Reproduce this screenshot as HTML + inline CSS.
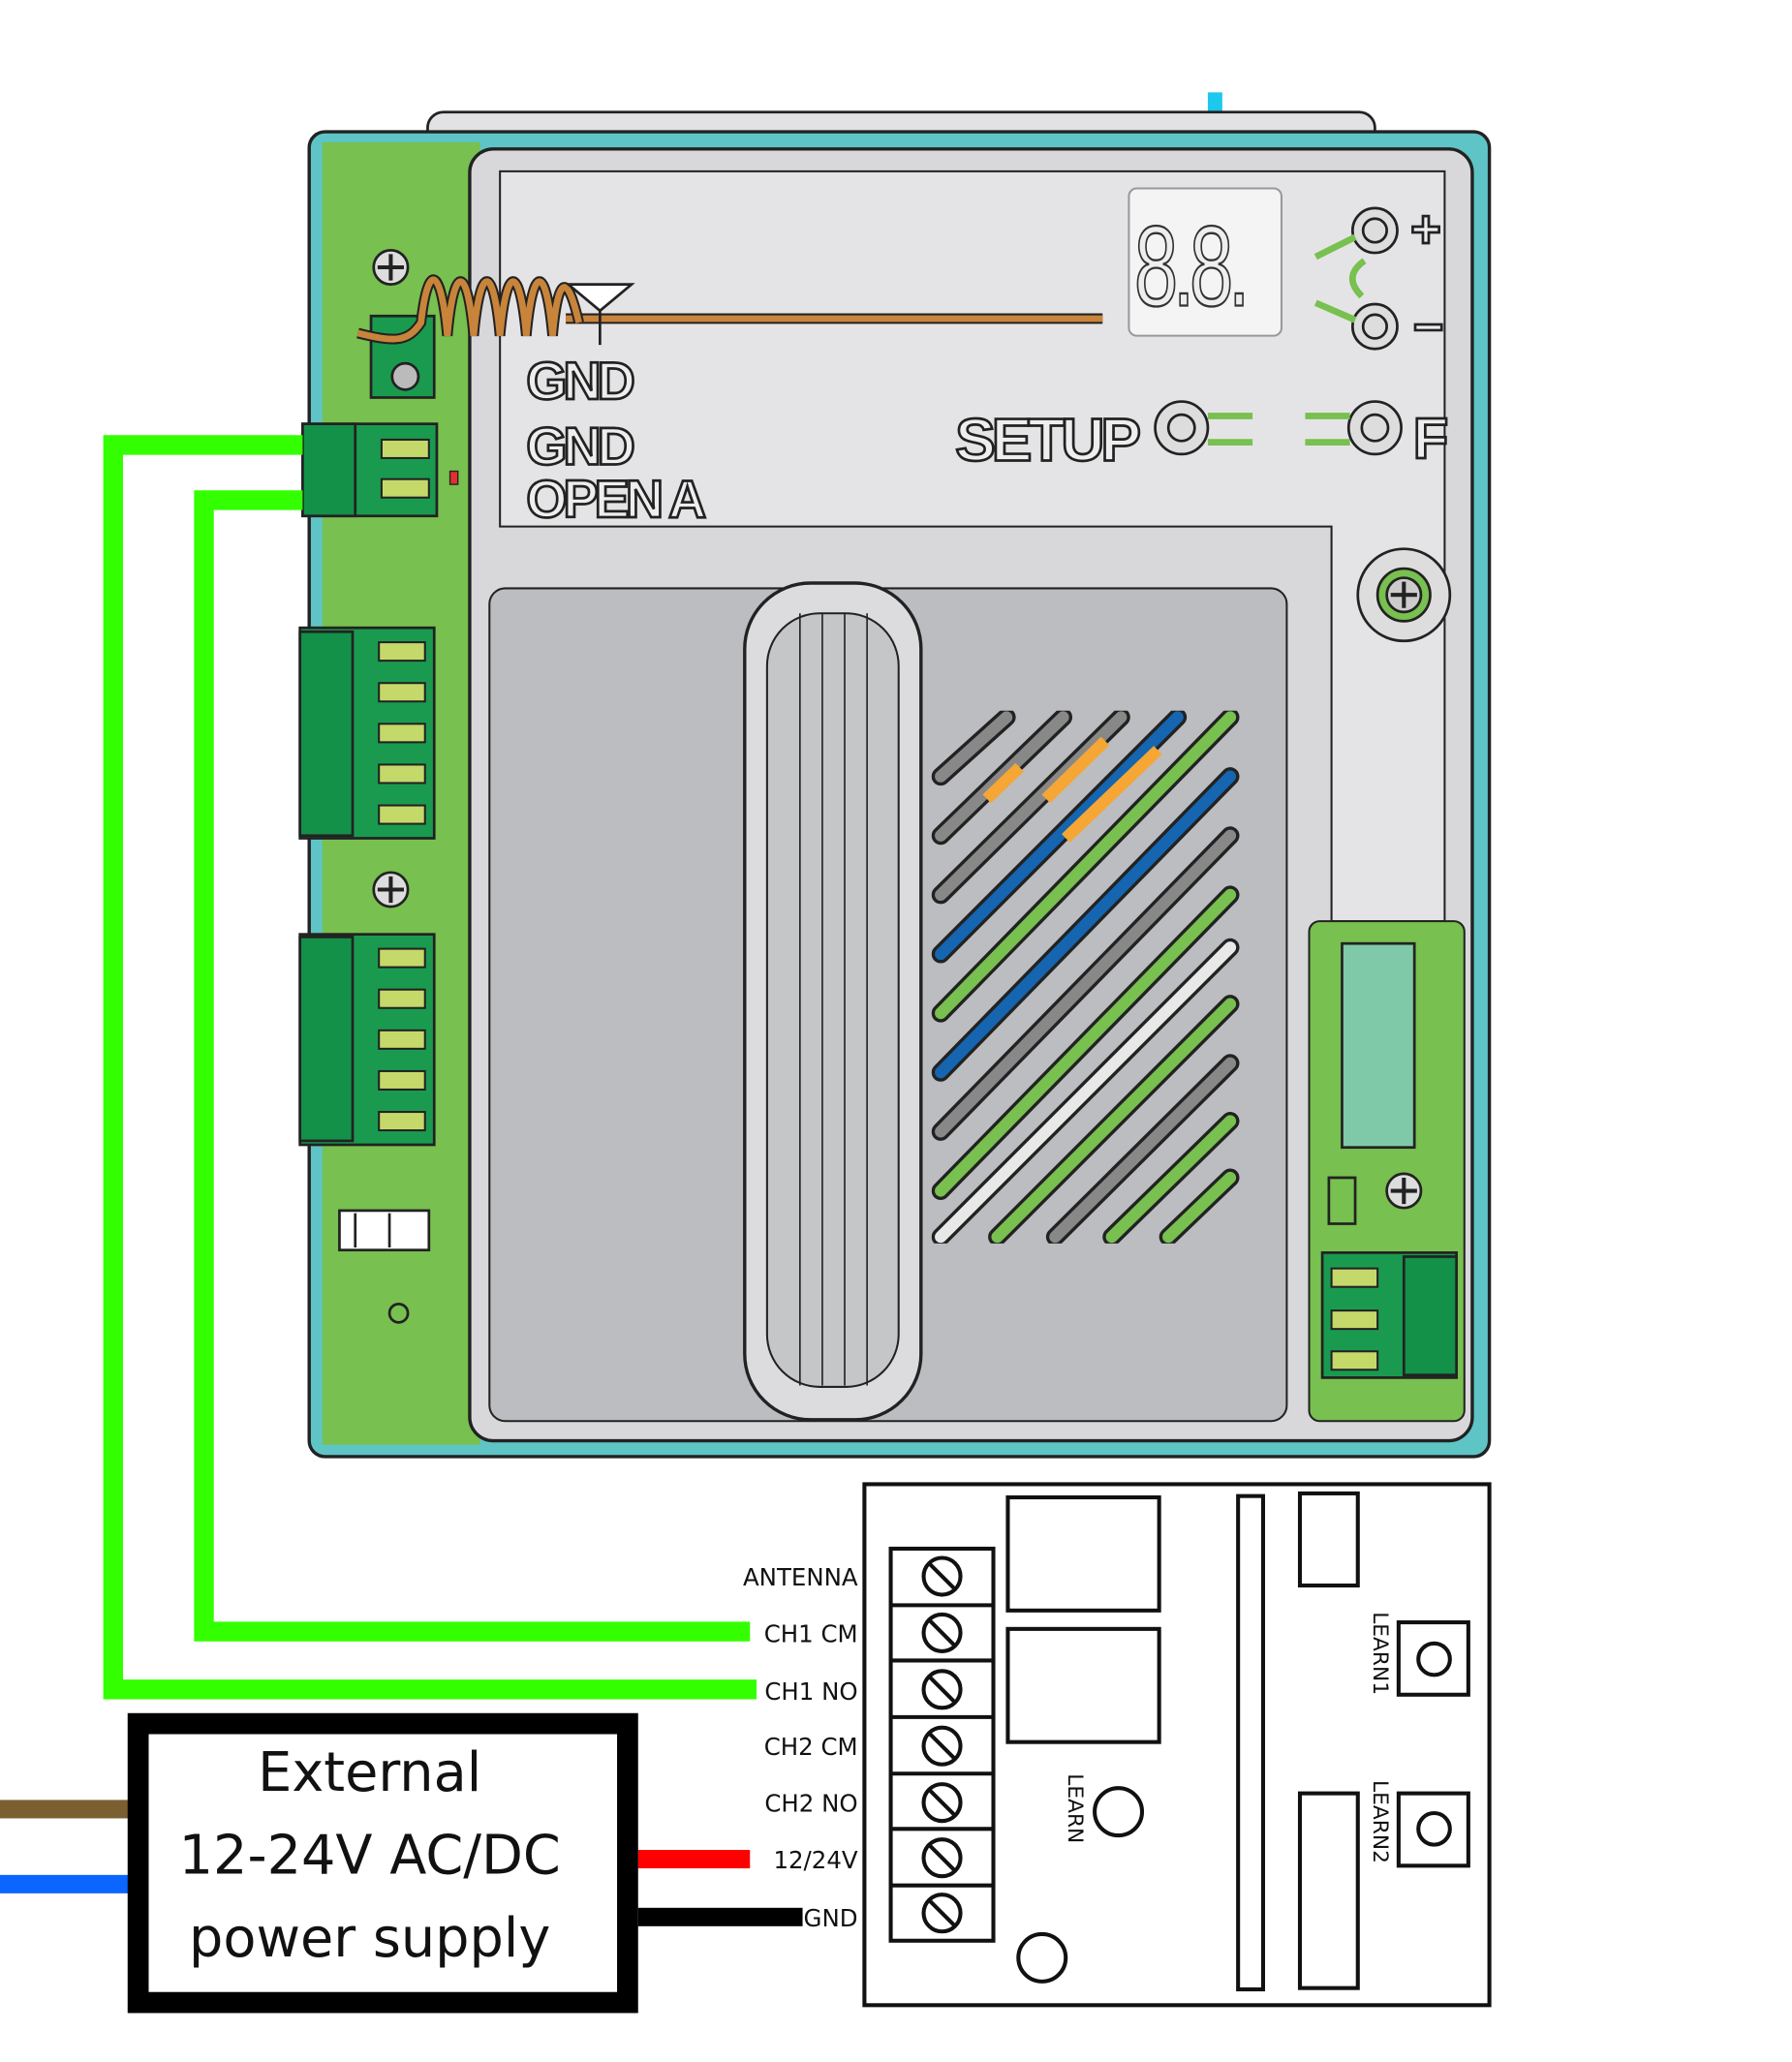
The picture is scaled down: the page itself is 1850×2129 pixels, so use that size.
<!DOCTYPE html>
<html><head><meta charset="utf-8"><style>html,body{margin:0;padding:0;background:#fff}svg{display:block}</style></head>
<body>
<svg width="1850" height="2129" viewBox="0 0 1362 1567" xmlns="http://www.w3.org/2000/svg" font-family="Liberation Sans, sans-serif">
<defs>
<clipPath id="vc"><rect x="708" y="540" width="235" height="405"/></clipPath>
</defs>
<rect width="1362" height="1567" fill="#fff"/>
<rect x="918" y="70" width="11" height="42" fill="#1ec8ec"/>
<rect x="325" y="85" width="720" height="30" rx="12" fill="#e2e2e4" stroke="#222" stroke-width="2"/>
<rect x="235" y="100" width="897" height="1007" rx="12" fill="#5fc4c6" stroke="#222" stroke-width="2.5"/>
<rect x="245" y="108" width="120" height="990" fill="#78c04f"/>
<rect x="357" y="113" width="762" height="982" rx="18" fill="#d8d8da" stroke="#222" stroke-width="2.5"/>
<path d="M380 130 H1098 V700 H1012 V400 H380 Z" fill="#e4e4e6" stroke="#222" stroke-width="1.5"/>
<rect x="995" y="700" width="118" height="380" rx="8" fill="#78c04f" stroke="#222" stroke-width="1.5"/>
<rect x="372" y="447" width="606" height="633" rx="12" fill="#bcbdc0" stroke="#222" stroke-width="1.5"/>
<rect x="566" y="443" width="134" height="636" rx="50" fill="#dcdcde" stroke="#222" stroke-width="2.5"/>
<rect x="583" y="466" width="100" height="588" rx="40" fill="#c5c6c8" stroke="#222" stroke-width="1.5"/>
<line x1="608" y1="466" x2="608" y2="1053" stroke="#222" stroke-width="1.2"/>
<line x1="625" y1="466" x2="625" y2="1053" stroke="#222" stroke-width="1.2"/>
<line x1="642" y1="466" x2="642" y2="1053" stroke="#222" stroke-width="1.2"/>
<line x1="659" y1="466" x2="659" y2="1053" stroke="#222" stroke-width="1.2"/>
<g clip-path="url(#vc)" stroke-linecap="round">
<g stroke="#222" stroke-width="14">
<line x1="715" y1="590" x2="765" y2="545"/><line x1="715" y1="635" x2="808" y2="545"/><line x1="715" y1="680" x2="852" y2="545"/><line x1="715" y1="725" x2="895" y2="545"/><line x1="715" y1="770" x2="935" y2="545"/><line x1="715" y1="815" x2="935" y2="590"/><line x1="715" y1="860" x2="935" y2="635"/><line x1="715" y1="905" x2="935" y2="680"/><line x1="715" y1="940" x2="935" y2="720"/><line x1="758" y1="940" x2="935" y2="763"/><line x1="802" y1="940" x2="935" y2="808"/><line x1="845" y1="940" x2="935" y2="852"/><line x1="888" y1="940" x2="935" y2="895"/>
</g>
<g stroke-width="9">
<line x1="715" y1="590" x2="765" y2="545" stroke="#888"/><line x1="715" y1="635" x2="808" y2="545" stroke="#888"/><line x1="715" y1="680" x2="852" y2="545" stroke="#888"/><line x1="715" y1="725" x2="895" y2="545" stroke="#1565b0"/><line x1="715" y1="770" x2="935" y2="545" stroke="#78c04f"/><line x1="715" y1="815" x2="935" y2="590" stroke="#1565b0"/><line x1="715" y1="860" x2="935" y2="635" stroke="#888"/><line x1="715" y1="905" x2="935" y2="680" stroke="#78c04f"/><line x1="715" y1="940" x2="935" y2="720" stroke="#e8e8e8"/><line x1="758" y1="940" x2="935" y2="763" stroke="#78c04f"/><line x1="802" y1="940" x2="935" y2="808" stroke="#888"/><line x1="845" y1="940" x2="935" y2="852" stroke="#78c04f"/><line x1="888" y1="940" x2="935" y2="895" stroke="#78c04f"/>
</g>
<g stroke-width="9" stroke="#f5a634" stroke-linecap="butt"><line x1="750" y1="607" x2="775" y2="583"/><line x1="795" y1="607" x2="840" y2="563"/><line x1="810" y1="637" x2="880" y2="570"/></g>
</g>
<rect x="858" y="143" width="116" height="112" rx="6" fill="#f4f4f4" stroke="#999" stroke-width="1.5"/>
<g transform="translate(862,232) scale(1,1.45)"><text x="0" y="0" font-size="60" font-family="Liberation Sans, sans-serif" fill="#eee" stroke="#333" stroke-width="1.2" letter-spacing="-4">8.8.</text></g>
<g fill="#ddd" stroke="#222" stroke-width="2">
<circle cx="1045" cy="175" r="17"/><circle cx="1045" cy="175" r="9"/>
<circle cx="1045" cy="248" r="17"/><circle cx="1045" cy="248" r="9"/>
<circle cx="1045" cy="325" r="20"/><circle cx="1045" cy="325" r="10"/>
<circle cx="898" cy="325" r="20"/><circle cx="898" cy="325" r="10"/>
<circle cx="1067" cy="452" r="35" fill="#ddd"/><circle cx="1067" cy="452" r="20" fill="#78c04f"/><circle cx="1067" cy="452" r="13" fill="#ccc"/>
</g>
<g stroke="#78c04f" stroke-width="5"><line x1="1000" y1="195" x2="1030" y2="180"/><line x1="1000" y1="230" x2="1030" y2="243"/><path d="M1037 198 Q1020 210 1035 225" fill="none"/><line x1="918" y1="316" x2="952" y2="316"/><line x1="918" y1="336" x2="952" y2="336"/><line x1="992" y1="316" x2="1026" y2="316"/><line x1="992" y1="336" x2="1026" y2="336"/></g>
<g font-weight="bold" fill="#eee" stroke="#222" stroke-width="2">
<text x="1072" y="188" font-size="40">+</text><text x="1074" y="262" font-size="40">−</text>
<text x="1074" y="348" font-size="44">F</text>
<text x="726" y="350" font-size="46" letter-spacing="-3">SETUP</text>
<text x="400" y="303" font-size="40" letter-spacing="-3">GND</text>
<text x="400" y="353" font-size="40" letter-spacing="-3">GND</text>
<text x="400" y="393" font-size="40" letter-spacing="-3">OPEN A</text>
</g>
<line x1="430" y1="242" x2="838" y2="242" stroke="#222" stroke-width="8"/>
<line x1="430" y1="242" x2="838" y2="242" stroke="#c8843a" stroke-width="5"/>
<g stroke="#222" stroke-width="2">
<rect x="282" y="240" width="48" height="62" fill="#1a9a4f"/><circle cx="308" cy="286" r="10" fill="#bbb"/>
</g>
<path d="M272 253 C300 260 310 260 320 245 C325 200 335 200 340 255 C345 200 355 200 360 255 C365 200 375 200 380 255 C385 200 395 200 400 255 C405 200 415 200 420 255 C425 200 433 215 440 245" fill="none" stroke="#222" stroke-width="8"/>
<path d="M272 253 C300 260 310 260 320 245 C325 200 335 200 340 255 C345 200 355 200 360 255 C365 200 375 200 380 255 C385 200 395 200 400 255 C405 200 415 200 420 255 C425 200 433 215 440 245" fill="none" stroke="#c8843a" stroke-width="5"/>
<path d="M432 216 H480 L456 236 Z" fill="#fff" stroke="#222" stroke-width="2"/>
<line x1="456" y1="236" x2="456" y2="262" stroke="#222" stroke-width="2"/>
<g fill="#ddd" stroke="#222" stroke-width="2"><circle cx="297" cy="203" r="13"/><circle cx="297" cy="676" r="13"/><circle cx="1067" cy="905" r="13"/><circle cx="303" cy="998" r="7" fill="none"/></g>
<g stroke="#222" stroke-width="3"><path d="M287 203h20M297 193v20M287 676h20M297 666v20M1057 905h20M1067 895v20M1057 452h20M1067 442v20"/></g>
<g stroke="#222" stroke-width="2">
<rect x="230" y="322" width="102" height="70" fill="#1a9a4f"/><rect x="230" y="322" width="40" height="70" fill="#139148"/>
<rect x="228" y="477" width="102" height="160" fill="#1a9a4f"/><rect x="228" y="480" width="40" height="155" fill="#139148"/>
<rect x="228" y="710" width="102" height="160" fill="#1a9a4f"/><rect x="228" y="712" width="40" height="155" fill="#139148"/>
<rect x="1005" y="952" width="102" height="95" fill="#1a9a4f"/><rect x="1067" y="955" width="40" height="90" fill="#139148"/>
<rect x="1020" y="717" width="55" height="155" fill="#80c9a8"/>
<rect x="1010" y="895" width="20" height="35" fill="none"/>
<rect x="258" y="920" width="68" height="30" fill="#fff"/>
<path d="M270 922v26M296 922v26" fill="none"/>
</g>
<g fill="#c5d86a" stroke="#222" stroke-width="1.5">
<rect x="290" y="334" width="36" height="14"/><rect x="290" y="364" width="36" height="14"/>
<rect x="288" y="488" width="35" height="14"/><rect x="288" y="519" width="35" height="14"/><rect x="288" y="550" width="35" height="14"/><rect x="288" y="581" width="35" height="14"/><rect x="288" y="612" width="35" height="14"/>
<rect x="288" y="721" width="35" height="14"/><rect x="288" y="752" width="35" height="14"/><rect x="288" y="783" width="35" height="14"/><rect x="288" y="814" width="35" height="14"/><rect x="288" y="845" width="35" height="14"/>
<rect x="1012" y="964" width="35" height="14"/><rect x="1012" y="996" width="35" height="14"/><rect x="1012" y="1027" width="35" height="14"/>
</g>
<rect x="342" y="358" width="6" height="10" fill="#e03030" stroke="#222"/>
<polyline points="230,338 86,338 86,1284 575,1284" fill="none" stroke="#33ff00" stroke-width="15"/>
<polyline points="230,380 155,380 155,1240 570,1240" fill="none" stroke="#33ff00" stroke-width="15"/>
<rect x="657" y="1128" width="475" height="396" fill="#fff" stroke="#111" stroke-width="3"/>
<g fill="none" stroke="#111" stroke-width="3">
<rect x="677" y="1177" width="78" height="298"/>
<path d="M677 1220h78M677 1262h78M677 1305h78M677 1348h78M677 1390h78M677 1433h78"/>
<rect x="766" y="1138" width="115" height="86"/><rect x="766" y="1238" width="115" height="86"/>
<rect x="941" y="1137" width="19" height="375"/><rect x="988" y="1135" width="44" height="70"/><rect x="988" y="1363" width="44" height="148"/>
<rect x="1063" y="1233" width="53" height="55"/><circle cx="1090" cy="1261" r="12"/>
<rect x="1063" y="1363" width="53" height="55"/><circle cx="1090" cy="1390" r="12"/>
<circle cx="850" cy="1377" r="18"/><circle cx="792" cy="1488" r="18"/>
<g stroke-width="3"><circle cx="716" cy="1198" r="14"/><circle cx="716" cy="1241" r="14"/><circle cx="716" cy="1284" r="14"/><circle cx="716" cy="1327" r="14"/><circle cx="716" cy="1370" r="14"/><circle cx="716" cy="1412" r="14"/><circle cx="716" cy="1454" r="14"/>
<path d="M706 1188l20 20M706 1231l20 20M706 1274l20 20M706 1317l20 20M706 1360l20 20M706 1402l20 20M706 1444l20 20"/></g>
</g>
<g font-size="18" font-family="DejaVu Sans, sans-serif" fill="#111" text-anchor="end">
<text x="652" y="1205">ANTENNA</text><text x="652" y="1248">CH1 CM</text><text x="652" y="1292">CH1 NO</text><text x="652" y="1334">CH2 CM</text><text x="652" y="1377">CH2 NO</text><text x="652" y="1420">12/24V</text><text x="652" y="1464">GND</text>
</g>
<g font-size="16" font-family="DejaVu Sans, sans-serif" fill="#111">
<text transform="translate(812,1348) rotate(90)">LEARN</text>
<text transform="translate(1044,1225) rotate(90)">LEARN1</text>
<text transform="translate(1044,1353) rotate(90)">LEARN2</text>
</g>
<rect x="0" y="1368" width="100" height="14" fill="#7a5f30"/>
<rect x="0" y="1425" width="100" height="14" fill="#0a66ff"/>
<rect x="485" y="1406" width="85" height="14" fill="#ff0000"/>
<rect x="485" y="1450" width="125" height="14" fill="#000"/>
<rect x="105" y="1310" width="372" height="212" fill="#fff" stroke="#000" stroke-width="16"/>
<g font-size="41" font-family="DejaVu Sans, sans-serif" fill="#111" text-anchor="middle">
<text x="281" y="1361">External</text><text x="281" y="1424">12-24V AC/DC</text><text x="281" y="1487">power supply</text>
</g>
</svg>
</body></html>
